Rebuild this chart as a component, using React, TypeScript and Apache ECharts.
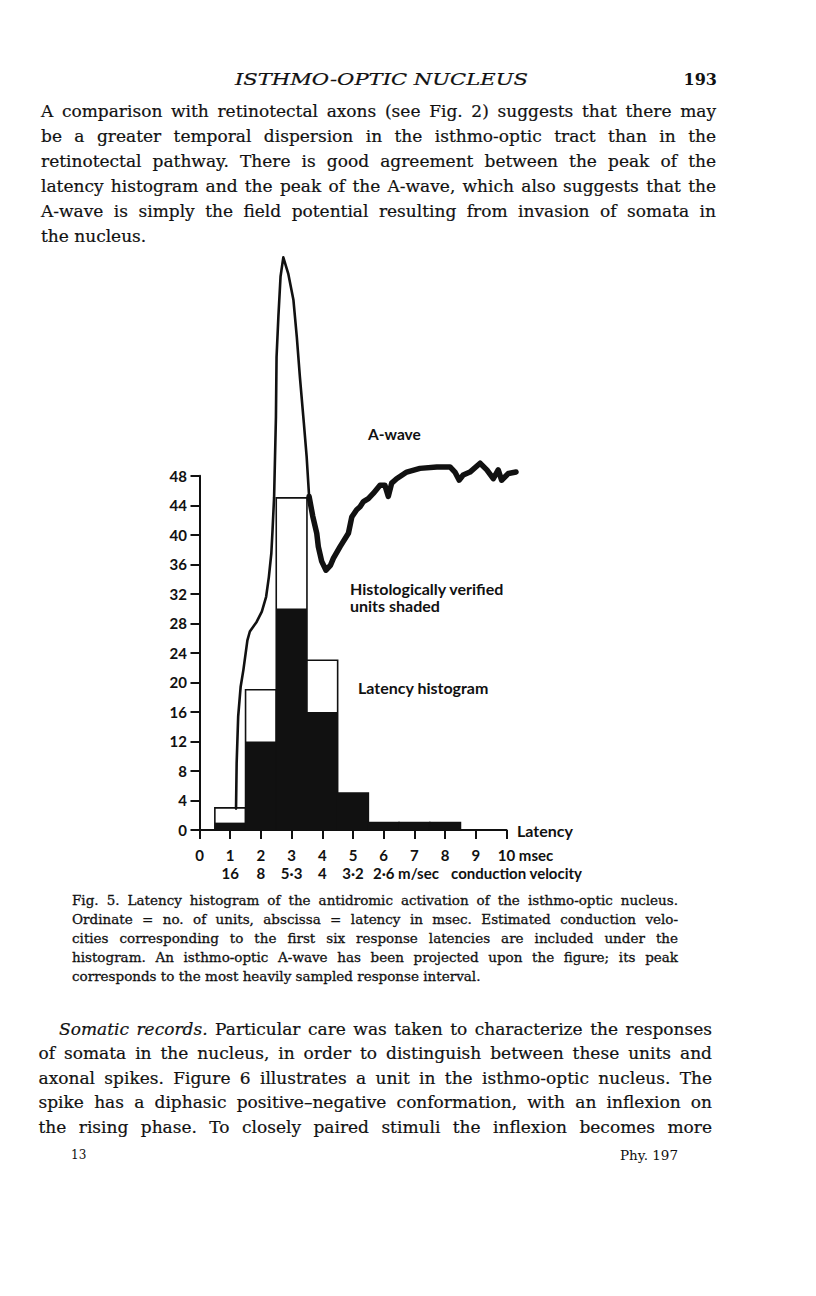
import React, { useEffect, useRef } from "react";
import * as echarts from "echarts";

// ---------- data ----------
const latencyTicks = [0, 1, 2, 3, 4, 5, 6, 7, 8, 9, 10];
const latencyLabels = ["0", "1", "2", "3", "4", "5", "6", "7", "8", "9", "10 msec"];
const velocityLabels = ["", "16", "8", "5·3", "4", "3·2", "2·6 m/sec", "", "", "", ""];
const velocityTail = "conduction velocity";
const binCenters = [1, 2, 3, 4, 5, 6, 7, 8];
const totalUnits = [3, 19, 45, 23, 5, 1, 1, 1];
const shadedUnits = [1, 12, 30, 16, 5, 1, 1, 1];
const BIN_WIDTH = 1;

// A-wave, thin rising/peak part
const awaveThinX = [1.19, 1.21, 1.26, 1.34, 1.43, 1.56, 1.64, 1.86, 2.03, 2.17, 2.26, 2.34, 2.38, 2.43, 2.49, 2.51, 2.57, 2.64, 2.73, 2.89, 3.06, 3.17, 3.27, 3.4, 3.49, 3.57];
const awaveThinY = [2.9, 9.0, 15.4, 19.4, 21.7, 25.7, 26.9, 28.2, 29.6, 31.6, 34.3, 37.5, 40.7, 45.1, 56.0, 64.1, 69.6, 75.0, 77.6, 75.4, 71.8, 66.8, 61.4, 55.1, 50.6, 45.2];
// A-wave, thick trough/recovery part
const awaveThickX = [3.57, 3.69, 3.82, 3.87, 3.98, 4.12, 4.27, 4.36, 4.58, 4.85, 4.96, 5.12, 5.23, 5.34, 5.5, 5.66, 5.88, 6.04, 6.15, 6.26, 6.42, 6.75, 7.18, 7.73, 8.16, 8.32, 8.46, 8.59, 8.81, 9.14, 9.36, 9.57, 9.73, 9.84, 10.06, 10.31];
const awaveThickY = [45.2, 42.5, 40.2, 38.4, 36.4, 35.2, 35.9, 36.8, 38.4, 40.2, 42.4, 43.4, 43.8, 44.5, 44.9, 45.6, 46.7, 46.7, 45.2, 47.0, 47.6, 48.5, 49.0, 49.2, 49.2, 48.5, 47.4, 48.1, 48.5, 49.7, 48.8, 47.6, 48.8, 47.4, 48.3, 48.5];

// ---------- texts ----------
const headerText = "ISTHMO-OPTIC NUCLEUS";
const pageNumber = "193";
const paragraph1 = [
  "A comparison with retinotectal axons (see Fig. 2) suggests that there may",
  "be a greater temporal dispersion in the isthmo-optic tract than in the",
  "retinotectal pathway. There is good agreement between the peak of the",
  "latency histogram and the peak of the A-wave, which also suggests that the",
  "A-wave is simply the field potential resulting from invasion of somata in",
  "the nucleus.",
];
const captionLines = [
  "Fig. 5. Latency histogram of the antidromic activation of the isthmo-optic nucleus.",
  "Ordinate = no. of units, abscissa = latency in msec. Estimated conduction velo-",
  "cities corresponding to the first six response latencies are included under the",
  "histogram. An isthmo-optic A-wave has been projected upon the figure; its peak",
  "corresponds to the most heavily sampled response interval.",
];
const paragraph2 = [
  "*Somatic *records. Particular care was taken to characterize the responses",
  "of somata in the nucleus, in order to distinguish between these units and",
  "axonal spikes. Figure 6 illustrates a unit in the isthmo-optic nucleus. The",
  "spike has a diphasic positive–negative conformation, with an inflexion on",
  "the rising phase. To closely paired stimuli the inflexion becomes more",
];
const footerLeft = "13";
const footerRight = "Phy. 197";
const annotations = ["A-wave", "Histologically verified", "units shaded", "Latency histogram"];

// ---------- layout ----------
const X_ORIGIN = 199.5;
const X_UNIT = 30.7;
const Y_ORIGIN = 830;
const Y_UNIT = 7.38;
const INK = "#111";
const SERIF = "DejaVu Serif";
const SANS = "Lato";
const LBL = 15;

let ctx: CanvasRenderingContext2D | null = null;
function measure(text: string, size: number, family: string, weight = "normal", style = "normal") {
  if (!ctx) ctx = document.createElement("canvas").getContext("2d");
  ctx!.font = `${style} ${weight} ${size}px "${family}"`;
  return ctx!.measureText(text).width;
}

type Block = {
  lines: string[];
  x0: number;
  x1: number;
  yc: number;
  dy: number;
  size: number;
  minGap: number;
  justifyLast: boolean;
  indent?: number;
  weight?: string;
  ink?: number;
};

function parseWords(line: string) {
  return line
    .split(" ")
    .filter(Boolean)
    .map((w) => (w.startsWith("*") ? { t: w.slice(1), it: true } : { t: w, it: false }));
}

function blockElements(b: Block) {
  const weight = b.weight || "normal";
  const size = b.size;
  const measured = b.lines.map((line) => {
    const words = parseWords(line);
    const widths = words.map((w) => measure(w.t, size, SERIF, weight, w.it ? "italic" : "normal"));
    return { words, widths, sum: widths.reduce((a, c) => a + c, 0) };
  });
  // horizontal condensing factor so every justified line fits
  let sx = 1;
  measured.forEach((m, i) => {
    const justify = i < b.lines.length - 1 || b.justifyLast;
    if (!justify) return;
    const avail = b.x1 - b.x0 - (i === 0 ? b.indent || 0 : 0);
    const s = (avail - b.minGap * size * (m.words.length - 1)) / m.sum;
    if (s < sx) sx = s;
  });
  const space = measure(" ", size, SERIF, weight) * sx;
  const els: any[] = [];
  measured.forEach((m, i) => {
    const y = b.yc + i * b.dy;
    const start = b.x0 + (i === 0 ? b.indent || 0 : 0);
    const justify = i < b.lines.length - 1 || b.justifyLast;
    const gap = justify && m.words.length > 1 ? (b.x1 - start - m.sum * sx) / (m.words.length - 1) : space;
    let x = start;
    m.words.forEach((w, j) => {
      els.push({
        type: "text",
        x,
        y,
        scaleX: sx,
        silent: true,
        style: {
          text: w.t,
          fontFamily: SERIF,
          fontSize: size,
          fontWeight: weight,
          fontStyle: w.it ? "italic" : "normal",
          fill: INK,
          stroke: INK,
          lineWidth: b.ink ?? 0.2,
          align: "left",
          verticalAlign: "middle",
        },
      });
      x += m.widths[j] * sx + gap;
    });
  });
  return els;
}

function sansText(text: string, x: number, y: number, size: number) {
  return {
    type: "text",
    x,
    y,
    silent: true,
    style: { text, fontFamily: SANS, fontSize: size, fontWeight: "bold", fill: INK, align: "left", verticalAlign: "middle" },
  };
}

export default function App() {
  const ref = useRef<HTMLDivElement>(null);
  useEffect(() => {
    if (!ref.current) return;
    const chart = echarts.init(ref.current, null, { renderer: "svg" });

    // label padding so the number sits under its tick
    const w10 = measure(latencyLabels[10], LBL, SANS, "bold");
    const w10a = measure("10", LBL, SANS, "bold");
    const pad10 = w10 - w10a;
    const GAP_TOKEN = 12;
    const w6a = measure("2·6", LBL, SANS, "bold");
    const w6 = measure(velocityLabels[6], LBL, SANS, "bold") + GAP_TOKEN + measure(velocityTail, LBL, SANS, "bold");
    const pad6 = w6 - w6a;

    const labelBase = { fontFamily: SANS, fontSize: LBL, fontWeight: "bold", color: INK };

    const headerW = measure(headerText, 17, SERIF, "normal", "italic");
    const headerSx = (528 - 235) / headerW;

    const graphic: any[] = [
      {
        type: "text",
        x: 235,
        y: 79,
        scaleX: headerSx,
        silent: true,
        style: { text: headerText, fontFamily: SERIF, fontStyle: "italic", fontSize: 17, fill: INK, stroke: INK, lineWidth: 0.2, align: "left", verticalAlign: "middle" },
      },
      {
        type: "text",
        x: 717,
        y: 79,
        silent: true,
        style: { text: pageNumber, fontFamily: SERIF, fontWeight: "bold", fontSize: 16, fill: INK, align: "right", verticalAlign: "middle" },
      },
      ...blockElements({ lines: paragraph1, x0: 41, x1: 716, yc: 111, dy: 25, size: 17, minGap: 0.22, justifyLast: false }),
      ...blockElements({ lines: captionLines, x0: 72, x1: 678, yc: 900, dy: 18.9, size: 13.5, minGap: 0.22, justifyLast: false, ink: 0.3 }),
      ...blockElements({ lines: paragraph2, x0: 38.5, x1: 712, yc: 1029, dy: 24.4, size: 17, minGap: 0.22, justifyLast: true, indent: 20.5 }),
      {
        type: "text",
        x: 71,
        y: 1155,
        silent: true,
        style: { text: footerLeft, fontFamily: SERIF, fontSize: 12, fill: INK, align: "left", verticalAlign: "middle" },
      },
      {
        type: "text",
        x: 678,
        y: 1155,
        silent: true,
        style: { text: footerRight, fontFamily: SERIF, fontSize: 13.5, fill: INK, align: "right", verticalAlign: "middle" },
      },
      sansText(annotations[0], 368, 434, 15.5),
      sansText(annotations[1], 350, 588, 16),
      sansText(annotations[2], 350, 605, 16),
      sansText(annotations[3], 358, 687, 16),
    ];

    const option: any = {
      animation: false,
      backgroundColor: "#fff",
      grid: [
        { left: X_ORIGIN, top: Y_ORIGIN - 48 * Y_UNIT, width: 10 * X_UNIT, height: 48 * Y_UNIT },
        { left: X_ORIGIN, top: Y_ORIGIN - 80 * Y_UNIT, width: 11 * X_UNIT, height: 80 * Y_UNIT },
      ],
      xAxis: [
        {
          type: "value",
          gridIndex: 0,
          min: 0,
          max: 10,
          interval: 1,
          name: "Latency",
          nameLocation: "end",
          nameGap: 10.5,
          nameTextStyle: { ...labelBase, fontSize: 16, align: "left", verticalAlign: "middle", padding: [13, 0, 0, 0] },
          axisLine: { show: true, onZero: false, lineStyle: { color: INK, width: 2 } },
          axisTick: { show: true, length: 9, lineStyle: { color: INK, width: 2 } },
          splitLine: { show: false },
          axisLabel: {
            ...labelBase,
            margin: 17,
            formatter: (v: number) => {
              const i = latencyTicks.indexOf(Math.round(v));
              const s = latencyLabels[i] ?? "";
              return i === 10 ? `{m|${s}}` : s;
            },
            rich: { m: { ...labelBase, padding: [0, 0, 0, pad10] } },
          },
        },
        {
          type: "value",
          gridIndex: 0,
          min: 0,
          max: 10,
          interval: 1,
          position: "bottom",
          offset: 18,
          axisLine: { show: false },
          axisTick: { show: false },
          splitLine: { show: false },
          axisLabel: {
            ...labelBase,
            margin: 17,
            formatter: (v: number) => {
              const i = latencyTicks.indexOf(Math.round(v));
              const s = velocityLabels[i] ?? "";
              return i === 6 ? `{a|${s}}{g|}{b|${velocityTail}}` : s;
            },
            rich: {
              a: { ...labelBase, padding: [0, 0, 0, pad6] },
              g: { width: GAP_TOKEN },
              b: { ...labelBase },
            },
          },
        },
        { type: "value", gridIndex: 1, min: 0, max: 11, show: false },
      ],
      yAxis: [
        {
          type: "value",
          gridIndex: 0,
          min: 0,
          max: 48,
          interval: 4,
          axisLine: { show: true, onZero: false, lineStyle: { color: INK, width: 2 } },
          axisTick: { show: true, length: 9, lineStyle: { color: INK, width: 2 } },
          splitLine: { show: false },
          axisLabel: { ...labelBase, margin: 12.5 },
        },
        { type: "value", gridIndex: 1, min: 0, max: 80, show: false },
      ],
      series: [
        {
          type: "custom",
          xAxisIndex: 0,
          yAxisIndex: 0,
          encode: { x: 0, y: [1, 2] },
          data: binCenters.map((c, i) => [c, totalUnits[i], shadedUnits[i]]),
          renderItem: (_p: any, api: any) => {
            const c = api.value(0);
            const tot = api.value(1);
            const sh = api.value(2);
            const bl = api.coord([c - BIN_WIDTH / 2, 0]);
            const tr = api.coord([c + BIN_WIDTH / 2, tot]);
            const sr = api.coord([c + BIN_WIDTH / 2, sh]);
            return {
              type: "group",
              children: [
                {
                  type: "rect",
                  shape: { x: bl[0], y: tr[1], width: tr[0] - bl[0], height: bl[1] - tr[1] },
                  style: { fill: "#fff", stroke: INK, lineWidth: 1.6 },
                },
                {
                  type: "rect",
                  shape: { x: bl[0], y: sr[1], width: sr[0] - bl[0], height: bl[1] - sr[1] },
                  style: { fill: INK },
                },
              ],
            };
          },
          z: 2,
        },
        {
          type: "line",
          xAxisIndex: 2,
          yAxisIndex: 1,
          data: awaveThinX.map((x, i) => [x, awaveThinY[i]]),
          showSymbol: false,
          clip: false,
          lineStyle: { color: INK, width: 2.6, cap: "round", join: "round" },
          z: 5,
        },
        {
          type: "line",
          xAxisIndex: 2,
          yAxisIndex: 1,
          data: awaveThickX.map((x, i) => [x, awaveThickY[i]]),
          showSymbol: false,
          clip: false,
          lineStyle: { color: INK, width: 5.5, cap: "round", join: "round" },
          z: 5,
        },
      ],
      graphic,
    };
    chart.setOption(option);
    return () => chart.dispose();
  }, []);
  return (
    <div
      ref={ref}
      style={{ position: "absolute", left: 0, top: 0, width: 816, height: 1296, background: "#fff" }}
    />
  );
}
